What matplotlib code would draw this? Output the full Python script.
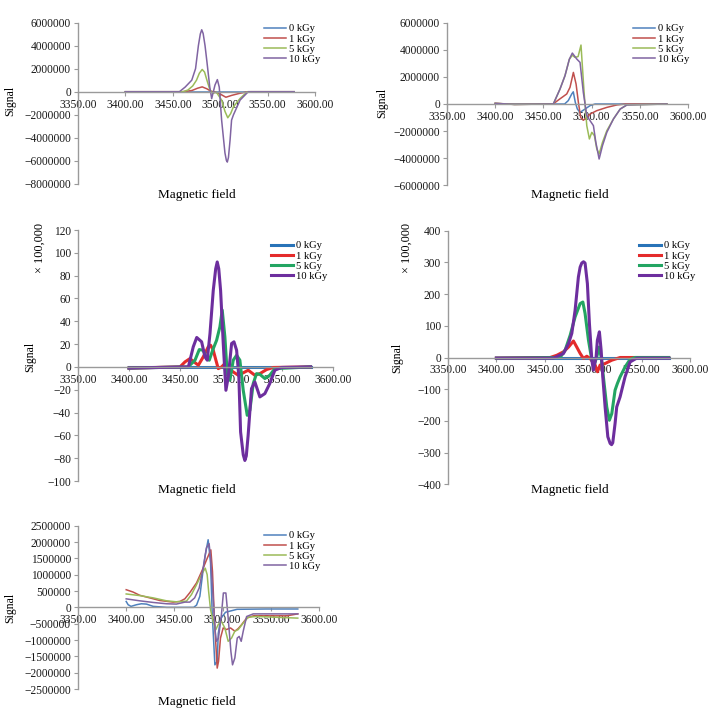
import matplotlib
matplotlib.use("Agg")
import matplotlib.pyplot as plt
from matplotlib.ticker import FixedLocator, FuncFormatter

plt.rcParams["font.family"] = ["Liberation Serif", "DejaVu Serif"]

W, H = 709, 712

DOSES = ["0 kGy", "1 kGy", "5 kGy", "10 kGy"]
X_TICKS = [3350, 3400, 3450, 3500, 3550, 3600]

# ---- panel 1 (signal) ----
P1_F0 = [3400, 3578]
P1_S0 = [0, 0]
P1_F1 = [3400, 3460, 3470, 3476, 3481, 3486, 3490, 3495, 3500, 3506, 3512, 3520, 3528, 3532, 3578]
P1_S1 = [0, 0, 0.1e6, 0.3e6, 0.42e6, 0.25e6, 0.05e6, -0.05e6, -0.2e6, -0.48e6, -0.32e6, -0.15e6, -0.02e6, 0, 0]
P1_F5 = [3400, 3461, 3466, 3471, 3475, 3478, 3481, 3483.5, 3486, 3489, 3492, 3496, 3501.5, 3505, 3508,
         3511, 3514, 3521, 3528.6, 3578]
P1_S5 = [0, 0, 0.15e6, 0.5e6, 1.0e6, 1.6e6, 1.93e6, 1.7e6, 1.0e6, 0.2e6, -0.15e6, -0.05e6, -0.72e6,
         -1.7e6, -2.26e6, -1.9e6, -1.3e6, -0.58e6, 0, 0]
P1_F10 = [3400, 3457, 3463, 3470, 3474, 3477, 3479, 3480.5, 3482, 3484, 3486, 3489, 3491, 3494.5, 3497,
          3499, 3501.5, 3505, 3506.5, 3507.5, 3508.7, 3510.4, 3512, 3514, 3521, 3529.6, 3578]
P1_S10 = [0, 0, 0.4e6, 1.0e6, 2.0e6, 4.0e6, 5.0e6, 5.37e6, 5.05e6, 4.0e6, 2.6e6, 0.4e6, -0.6e6, 0.58e6,
          1.05e6, 0.4e6, -2.46e6, -5.3e6, -5.95e6, -6.1e6, -5.7e6, -4.2e6, -2.46e6, -2.0e6, -0.72e6, 0, 0]

# ---- panel 2 (signal) ----
P2_F0 = [3400, 3472, 3475.8, 3479.4, 3481, 3483.1, 3485.2, 3488, 3493.2, 3498.4, 3503.6, 3578]
P2_S0 = [0, 0, 0.25e6, 0.74e6, 0.9e6, 0.12e6, -0.37e6, -0.62e6, -0.37e6, -0.12e6, 0, 0]
P2_F1 = [3400, 3420, 3460, 3467, 3474.2, 3477.6, 3481.1, 3483.9, 3486.3, 3488.7, 3491.4, 3495, 3498.4,
         3505.4, 3515.8, 3526.2, 3535, 3578]
P2_S1 = [0.05e6, -0.03e6, 0, 0.37e6, 0.74e6, 1.23e6, 2.33e6, 1.47e6, 0.12e6, -1.0e6, -1.2e6, -1.0e6, -0.74e6,
         -0.49e6, -0.25e6, -0.07e6, 0, 0]
P2_F5 = [3400, 3420, 3460.3, 3467.2, 3472.4, 3476.9, 3480, 3482.8, 3486, 3489, 3492.2, 3495, 3497.7,
         3500.2, 3502.9, 3505.4, 3507.8, 3511.3, 3515.8, 3522.7, 3529.7, 3536.6, 3578]
P2_S5 = [0.05e6, -0.03e6, 0, 1.1e6, 2.09e6, 3.3e6, 3.6e6, 3.44e6, 3.5e6, 4.35e6, 0.86e6, -1.6e6, -2.58e6,
         -2.09e6, -2.34e6, -3.32e6, -3.69e6, -2.83e6, -1.97e6, -1.1e6, -0.37e6, -0.07e6, 0]
P2_F10 = [3400, 3420, 3460.3, 3467.2, 3472.4, 3476.9, 3480, 3484.6, 3488, 3491.4, 3495, 3498.4, 3501.9,
          3504.4, 3507.8, 3511.3, 3515.8, 3522.7, 3529.7, 3536.6, 3578]
P2_S10 = [0.05e6, -0.03e6, 0, 1.1e6, 2.09e6, 3.3e6, 3.76e6, 3.32e6, 3.07e6, 0.86e6, -0.86e6, -1.23e6, -1.6e6,
          -2.83e6, -4.06e6, -3.07e6, -2.09e6, -1.1e6, -0.37e6, -0.07e6, 0]

# ---- panel 3 (signal x 100,000) ----
P3_F0 = [3400, 3578]
P3_S0 = [0, 0]
P3_F1 = [3400, 3450, 3454.9, 3459.8, 3463.7, 3468, 3472.8, 3477.7, 3480, 3482.6, 3485.2, 3487.5, 3490.8,
         3494, 3497.3, 3502.2, 3507.1, 3510.4, 3516.9, 3523.4, 3528.3, 3534.9, 3541.4, 3578]
P3_S1 = [-1, 0, 4.4, 7.3, 4.4, 1.5, 8.8, 17.6, 19, 14.6, 5.9, -1.5, 0, 2.9, -1.5, -4.4, -7.3, -5.9, -2.9,
         -7.3, -5.9, -2.3, -0.5, 0]
P3_F5 = [3400, 3458, 3464.7, 3468.9, 3472.8, 3476.1, 3478.7, 3482, 3485.9, 3489.1, 3491.4, 3494, 3496.3,
         3498.9, 3502.2, 3505.5, 3508.7, 3512, 3515.9, 3518.5, 3521.8, 3525, 3528.3, 3533.2, 3538, 3543, 3578]
P3_S5 = [-1, 0, 5.9, 15.2, 14.6, 7.3, 5.9, 14.6, 23.4, 35, 49.8, 26.3, -5.9, -11.7, 5.9, 10.2, 5.9, -20.5,
         -42.4, -38, -14.6, -5.9, -6.5, -10.2, -7.3, -1.5, 0]
P3_F10 = [3400, 3458.2, 3463, 3466.4, 3471.2, 3474.5, 3476.7, 3479.4, 3482.6, 3485, 3486.5, 3488, 3489.8,
          3492.4, 3495, 3497.3, 3500.6, 3502.9, 3505.5, 3507.7, 3509.4, 3512, 3513.6, 3515, 3516.8, 3520.1,
          3523.4, 3528.3, 3533.2, 3538, 3543, 3549.5, 3578]
P3_S10 = [-1, 0, 17.6, 25.8, 22, 8.8, 5.9, 29.3, 67, 86, 92, 86, 67, 20.5, -20.5, -8.8, 20.5, 22, 14.6, -8.8,
          -57, -77, -82, -78, -60, -19, -13.2, -26.3, -23.4, -14.6, -2.9, -0.5, 0]

# ---- panel 4 (signal x 100,000) ----
P4_F0 = [3400, 3578]
P4_S0 = [0, 0]
P4_F1 = [3400, 3455.5, 3462.4, 3469.3, 3474.5, 3479.6, 3483, 3486.5, 3489.9, 3493.4, 3496.8, 3502,
         3504.4, 3507.1, 3512.3, 3519.2, 3527.8, 3578]
P4_S1 = [-2, 0, 7, 18, 33, 52, 33, 13, -3, 4, -3, -24, -45, -24, -19, -8.5, 0, 0]
P4_F5 = [3400, 3465.8, 3471, 3476.2, 3481.3, 3486.5, 3489.3, 3491.6, 3495.1, 3498.6, 3500.9, 3503.7,
         3506.1, 3508.2, 3511.3, 3514, 3516.7, 3519.2, 3522.6, 3525, 3527.8, 3532.9, 3538.1, 3543.3, 3578]
P4_S5 = [-2, 0, 23, 70, 128, 170, 175, 139, 55, -8.5, -24, 2, 33, 2, -82, -156, -198, -177, -103, -82,
         -61, -30, -6, 0, 0]
P4_F10 = [3400, 3459, 3469.3, 3474.5, 3477.9, 3481.3, 3484.7, 3486.5, 3488.2, 3490, 3491.6, 3494, 3496.1,
          3498.6, 3500.2, 3503, 3504.3, 3506.4, 3508.2, 3509.9, 3512.3, 3515.1, 3517.5, 3519, 3520.2, 3522.6,
          3524.3, 3527.8, 3532.9, 3538.1, 3545, 3578]
P4_S10 = [-2, -2, 12.6, 44, 76, 149, 254, 285, 298, 302, 298, 233, 107, -8.5, -40, 2, 54, 81, 23, -61, -156,
          -250, -271, -275, -269, -208, -156, -124, -61, -14, -2, -2]

# ---- panel 5 (signal) ----
P5_F0 = [3400, 3402, 3405, 3410.6, 3415.8, 3421, 3428, 3442, 3470, 3473, 3476.4, 3479.8, 3482, 3485,
         3487.5, 3489.2, 3492, 3494.4, 3495.5, 3498, 3503, 3515, 3545, 3578]
P5_S0 = [0.18e6, 0.08e6, 0.03e6, 0.08e6, 0.11e6, 0.1e6, 0.03e6, 0, 0, 0.07e6, 0.34e6, 1.15e6, 1.6e6, 2.07e6,
         1.36e6, -0.17e6, -1.76e6, -1.65e6, -0.8e6, -0.35e6, -0.15e6, -0.06e6, -0.05e6, -0.05e6]
P5_F1 = [3400, 3407, 3414, 3424.4, 3434.8, 3448.7, 3455.6, 3460.8, 3466, 3473, 3479.8, 3484, 3487.8,
         3489.5, 3491.3, 3493, 3494.4, 3495.8, 3497.8, 3500.6, 3504, 3508.2, 3512.7, 3516.2, 3519.7,
         3524.9, 3531.8, 3566.4, 3578]
P5_S1 = [0.54e6, 0.47e6, 0.37e6, 0.29e6, 0.21e6, 0.16e6, 0.18e6, 0.26e6, 0.45e6, 0.75e6, 1.2e6, 1.5e6,
         1.76e6, 1.1e6, -0.22e6, -1.14e6, -1.86e6, -1.65e6, -0.94e6, -0.63e6, -0.68e6, -0.63e6, -0.73e6,
         -0.65e6, -0.53e6, -0.33e6, -0.26e6, -0.26e6, -0.2e6]
P5_F5 = [3400, 3414, 3428, 3441.8, 3452, 3462.5, 3467.7, 3472.9, 3478, 3482, 3484, 3485.5, 3487.5,
         3490.2, 3493, 3495.4, 3498.8, 3502.3, 3505.8, 3509.3, 3512.7, 3516.2, 3521.4, 3526.6, 3535.3, 3578]
P5_S5 = [0.41e6, 0.36e6, 0.29e6, 0.2e6, 0.17e6, 0.19e6, 0.39e6, 0.69e6, 1.0e6, 1.2e6, 1.0e6, 0.49e6,
         -0.07e6, -0.43e6, -0.68e6, -0.53e6, -0.43e6, -0.63e6, -1.04e6, -0.94e6, -0.73e6, -0.68e6, -0.48e6,
         -0.3e6, -0.28e6, -0.33e6]
P5_F10 = [3400, 3414, 3428, 3441.8, 3452, 3460.8, 3466, 3471, 3475.7, 3479.8, 3483.2, 3486, 3487.6,
          3490.2, 3492.3, 3493.6, 3495.7, 3498.8, 3500.8, 3503.4, 3505.8, 3508.6, 3510.3, 3512.7, 3515.2,
          3517.2, 3519.3, 3521.4, 3524.9, 3531.8, 3578]
P5_S10 = [0.26e6, 0.2e6, 0.15e6, 0.11e6, 0.1e6, 0.16e6, 0.16e6, 0.29e6, 0.59e6, 1.2e6, 1.82e6, 1.95e6,
          1.5e6, 0.29e6, -0.73e6, -1.04e6, -0.94e6, -0.22e6, 0.44e6, 0.44e6, -0.33e6, -1.35e6, -1.76e6,
          -1.55e6, -0.94e6, -0.89e6, -1.04e6, -0.73e6, -0.28e6, -0.2e6, -0.2e6]

EXCEL_COLORS = ["#4F81BD", "#C0504D", "#9BBB59", "#8064A2"]
BOLD_COLORS = ["#2873B8", "#E42B2B", "#23A562", "#6D2E9E"]
AXIS_GREY = "#9A9A9A"


def fx(px):
    return px / W


def fy(py):
    return 1 - py / H


def minus_fmt(v, pos):
    s = f"{int(round(v))}"
    return s.replace("-", "\u2212")


def make_panel(fig, box, ylim, yticks, series, colors, lw, legend_xy,
               signal_xy, field_xy, scale_label_xy=None):
    left, right, top, bottom = box
    ax = fig.add_axes([fx(left), fy(bottom), (right - left) / W, (bottom - top) / H])
    for (f, s), c, lab in zip(series, colors, DOSES):
        ax.plot(f, s, color=c, lw=lw, label=lab, solid_joinstyle="round")
    ax.set_xlim(3350, 3600)
    ax.set_ylim(*ylim)
    ax.xaxis.set_major_locator(FixedLocator(X_TICKS))
    ax.xaxis.set_major_formatter(FuncFormatter(lambda v, p: f"{v:.2f}"))
    ax.yaxis.set_major_locator(FixedLocator(yticks))
    ax.yaxis.set_major_formatter(FuncFormatter(minus_fmt))
    for side in ("top", "right"):
        ax.spines[side].set_visible(False)
    ax.spines["bottom"].set_position(("data", 0))
    for side in ("bottom", "left"):
        ax.spines[side].set_color(AXIS_GREY)
        ax.spines[side].set_linewidth(1.0)
    ax.tick_params(axis="both", colors=AXIS_GREY, labelcolor="#1a1a1a",
                   labelsize=8.3, length=3, width=0.8, direction="out", pad=2)
    ax.patch.set_alpha(0)

    ax.legend(loc="upper left", bbox_to_anchor=(fx(legend_xy[0]), fy(legend_xy[1])),
              bbox_transform=fig.transFigure, frameon=False, fontsize=7.6,
              handlelength=2.1, handletextpad=0.3, labelspacing=0.08,
              borderpad=0, borderaxespad=0)

    fig.text(fx(signal_xy[0]), fy(signal_xy[1]), "Signal", rotation=90,
             ha="center", va="center", fontsize=8.6)
    fig.text(fx(field_xy[0]), fy(field_xy[1]), "Magnetic field",
             ha="center", va="center", fontsize=9.5)
    if scale_label_xy is not None:
        fig.text(fx(scale_label_xy[0]), fy(scale_label_xy[1]), "\u00d7 100,000",
                 rotation=90, ha="center", va="center", fontsize=8.8)
    return ax


fig = plt.figure(figsize=(W / 100, H / 100), dpi=100)

make_panel(fig, (78, 315, 22.5, 184),
           (-8e6, 6e6), list(range(-8000000, 6000001, 2000000)),
           [(P1_F0, P1_S0), (P1_F1, P1_S1), (P1_F5, P1_S5), (P1_F10, P1_S10)],
           EXCEL_COLORS, 1.1, (264, 24), (10, 101), (197, 195))

make_panel(fig, (447, 688, 22.7, 185.3),
           (-6e6, 6e6), list(range(-6000000, 6000001, 2000000)),
           [(P2_F0, P2_S0), (P2_F1, P2_S1), (P2_F5, P2_S5), (P2_F10, P2_S10)],
           EXCEL_COLORS, 1.1, (633, 24), (382, 103), (570, 195))

make_panel(fig, (78, 333, 230, 481),
           (-100, 120), list(range(-100, 121, 20)),
           [(P3_F0, P3_S0), (P3_F1, P3_S1), (P3_F5, P3_S5), (P3_F10, P3_S10)],
           BOLD_COLORS, 2.2, (271, 241), (30, 357), (197, 490), (40, 248))

make_panel(fig, (448, 690, 230.7, 484.3),
           (-400, 400), list(range(-400, 401, 100)),
           [(P4_F0, P4_S0), (P4_F1, P4_S1), (P4_F5, P4_S5), (P4_F10, P4_S10)],
           BOLD_COLORS, 2.2, (639, 241), (397, 358), (570, 490), (407, 248))

make_panel(fig, (78, 319, 525.7, 689),
           (-2.5e6, 2.5e6), list(range(-2500000, 2500001, 500000)),
           [(P5_F0, P5_S0), (P5_F1, P5_S1), (P5_F5, P5_S5), (P5_F10, P5_S10)],
           EXCEL_COLORS, 1.1, (264, 531), (10, 608), (197, 702))

fig.savefig("out.png", dpi=100)
